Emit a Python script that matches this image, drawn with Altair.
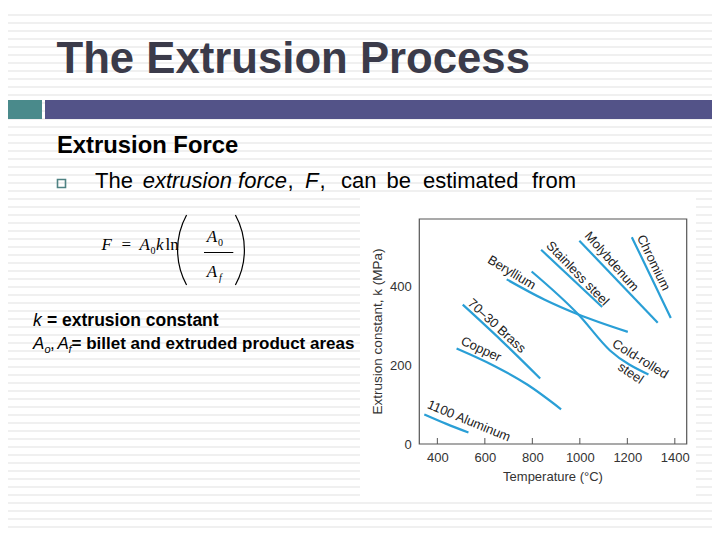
import altair as alt
import pandas as pd

# ---------------- data ----------------
al_T = [345, 438, 531];            al_k = [75, 51, 29]
cu_T = [481, 636, 780, 921];       cu_k = [242, 199, 150, 88]
br_T = [507, 670, 833];            br_k = [353, 262, 166]
be_T = [692, 850, 994, 1202];      be_k = [417, 366, 328, 284]
cr_T = [797, 994, 1127, 1289];     cr_k = [437, 328, 237, 176]
ss_T = [837, 1094];                ss_k = [492, 347]
mo_T = [998, 1328];                mo_k = [515, 307]
ch_T = [1219, 1300, 1383];         ch_k = [524, 423, 319]

series = {
    "1100 Aluminum": (al_T, al_k),
    "Copper": (cu_T, cu_k),
    "70–30 Brass": (br_T, br_k),
    "Beryllium": (be_T, be_k),
    "Cold-rolled steel": (cr_T, cr_k),
    "Stainless steel": (ss_T, ss_k),
    "Molybdenum": (mo_T, mo_k),
    "Chromium": (ch_T, ch_k),
}

label_text = ["1100 Aluminum", "Copper", "70–30 Brass", "Beryllium", "Stainless steel",
              "Molybdenum", "Chromium", "Cold-rolled", "steel"]
label_T = [533, 584, 650, 713, 990, 1134, 1310, 1254, 1214]
label_k = [58, 240, 299, 434, 432, 462, 459, 215, 179]
label_ang = [22.5, 25, 42.4, 31.3, 45.8, 48.6, 64, 31.7, 33.7]

x_ticks = [400, 600, 800, 1000, 1200, 1400]
y_ticks = [0, 200, 400]

# ---------------- layout helpers ----------------
OX, OY = 419.3, 219.0          # page position of the plot area's top-left corner
W, H = 267.4, 225.0
def px(X): return X - OX
def py(Y): return Y - OY

one = pd.DataFrame({"a": [0]})
SANS = "Liberation Sans"
SERIF = "Liberation Serif"

def txt(s, X, Y, size, weight="normal", style="normal", font=SANS, color="#000000",
        align="left", baseline="alphabetic", angle=0):
    kw = dict(text=s, fontSize=size, fontWeight=weight, fontStyle=style, font=font,
              color=color, align=align, baseline=baseline)
    if angle:
        kw["angle"] = angle
    return alt.Chart(one).mark_text(**kw).encode(x=alt.value(px(X)), y=alt.value(py(Y)))

def rect(X1, X2, Y1, Y2, color):
    return alt.Chart(one).mark_rect(color=color).encode(
        x=alt.value(px(X1)), x2=alt.value(px(X2)), y=alt.value(py(Y1)), y2=alt.value(py(Y2)))

# ---------------- slide decoration ----------------
stripes = alt.Chart(one).mark_rule(color="#ececec", strokeWidth=712, strokeDash=[1.5, 6.5]).encode(
    x=alt.value(px(364)), y=alt.value(py(-1.7)), y2=alt.value(py(546)))

bar1 = rect(0, 42, 100, 119, "#4a8a8b")
bar2 = rect(45, 720, 100, 119, "#535388")

title = txt("The Extrusion Process", 56.5, 72.7, 43.7, weight="bold", color="#3b3b4a")
sub = txt("Extrusion Force", 57, 153, 23.8, weight="bold")

bullet = alt.Chart(one).mark_rect(filled=False, stroke="#4f8283", strokeWidth=1.6).encode(
    x=alt.value(px(57.5)), x2=alt.value(px(65.5)), y=alt.value(py(179.5)), y2=alt.value(py(187.5)))

BY = 187.7
BS = 22
body = [
    txt("The", 95, BY, BS),
    txt("extrusion force", 142.7, BY, BS, style="italic"),
    txt(",", 287.5, BY, BS),
    txt("F", 305, BY, BS, style="italic"),
    txt(",", 319.5, BY, BS),
    txt("can", 341, BY, BS),
    txt("be", 386.5, BY, BS),
    txt("estimated", 423, BY, BS),
    txt("from", 532, BY, BS),
]

formula = [
    txt("F", 101.5, 250, 17, style="italic", font=SERIF),
    txt("=", 121.5, 250, 17, font=SERIF),
    txt("A", 139.5, 250, 17, style="italic", font=SERIF),
    txt("0", 150.5, 253.5, 10, font=SERIF),
    txt("k", 156, 250, 17, style="italic", font=SERIF),
    txt("ln", 165.5, 250, 17, font=SERIF),
    txt("A", 206.8, 242, 17, style="italic", font=SERIF),
    txt("0", 218, 245.5, 10, font=SERIF),
    txt("A", 206.8, 277, 17, style="italic", font=SERIF),
    txt("f", 219, 280.5, 10, style="italic", font=SERIF),
    alt.Chart(one).mark_rule(color="#000000", strokeWidth=1).encode(
        x=alt.value(px(204)), x2=alt.value(px(233.3)), y=alt.value(py(252.5))),
    alt.Chart(one).mark_arc(filled=False, color="#000000", strokeWidth=1.2, radius=72.6, radius2=72.6,
                            theta=4.21, theta2=5.215).encode(x=alt.value(px(250.2)), y=alt.value(py(250))),
    alt.Chart(one).mark_arc(filled=False, color="#000000", strokeWidth=1.2, radius=72.6, radius2=72.6,
                            theta=1.068, theta2=2.074).encode(x=alt.value(px(171.8)), y=alt.value(py(250))),
]

notes = [
    txt("k", 33, 326, 17.5, style="italic"),
    txt("= extrusion constant", 47, 326, 17.5, weight="bold"),
    txt("A", 33, 349, 17, style="italic"),
    txt("o", 44.5, 352.5, 11, style="italic"),
    txt(",", 50, 349, 17),
    txt("A", 57.5, 349, 17, style="italic"),
    txt("f", 68.5, 352.5, 11, style="italic"),
    txt("= billet and extruded product areas", 71.5, 349, 17, weight="bold"),
]

image_bg = rect(360, 696, 193, 496, "#ffffff")

# ---------------- the chart ----------------
rows = []
for name, (Ts, ks) in series.items():
    for i, (t, k) in enumerate(zip(Ts, ks)):
        rows.append({"material": name, "T": t, "k": k, "i": i})
lines_df = pd.DataFrame(rows)

xscale = alt.Scale(domain=[324, 1450], nice=False, zero=False)
yscale = alt.Scale(domain=[0, 570], nice=False, zero=False)

xaxis = alt.Axis(values=x_ticks, format="d", ticks=False, domain=False, grid=False, labelFontSize=13,
                 labelColor="#333333", labelPadding=7, labelFont=SANS, title=None, zindex=1)
yaxis = alt.Axis(values=y_ticks, format="d", ticks=False, domain=False, grid=False, labelFontSize=13,
                 labelColor="#333333", labelPadding=8, labelFont=SANS, title=None, zindex=1)

lines = alt.Chart(lines_df).mark_line(color="#2a9fd6", strokeWidth=2.2, interpolate="monotone").encode(
    x=alt.X("T:Q", scale=xscale, axis=xaxis),
    y=alt.Y("k:Q", scale=yscale, axis=yaxis),
    detail="material:N",
    order="i:O",
)

labels_df = pd.DataFrame({"label": label_text, "T": label_T, "k": label_k, "ang": label_ang})
labels = alt.Chart(labels_df).mark_text(fontSize=13, font=SANS, color="#222222",
                                        align="center", baseline="middle").encode(
    x=alt.X("T:Q", scale=xscale),
    y=alt.Y("k:Q", scale=yscale),
    text="label:N",
    angle=alt.Angle("ang:Q", scale=None),
)

ticks_df = pd.DataFrame({"t": x_ticks})
xt = alt.Chart(ticks_df).mark_rule(color="#555555", strokeWidth=1).encode(
    x=alt.X("t:Q", scale=xscale), y=alt.value(H), y2=alt.value(H - 6))

frame = alt.Chart(one).mark_rect(filled=False, stroke="#555555", strokeWidth=1.2).encode(
    x=alt.value(0), x2=alt.value(W), y=alt.value(0), y2=alt.value(H))

xtitle = txt("Temperature (°C)", 553, 477.3, 13, color="#333333", align="center", baseline="middle")
ytitle = txt("Extrusion constant, k (MPa)", 378.3, 331.5, 13.5, color="#333333", align="center",
             baseline="middle", angle=270)

layers = [stripes, bar1, bar2, title, sub, bullet] + body + formula + notes + \
         [image_bg, frame, lines, labels, xt, xtitle, ytitle]

# the page keeps an 8px margin on every side: the drawing spans page 8..712 x 8..532
chart = alt.layer(*layers).properties(
    width=W, height=H,
    padding={"left": OX - 8, "top": OY - 8, "right": 712 - (OX + W), "bottom": 532 - (OY + H)},
    autosize=alt.AutoSizeParams(type="none"),
    background="#ffffff",
).configure_view(stroke=None)

chart.save("out.html", embed_options={"renderer": "svg", "actions": False})
